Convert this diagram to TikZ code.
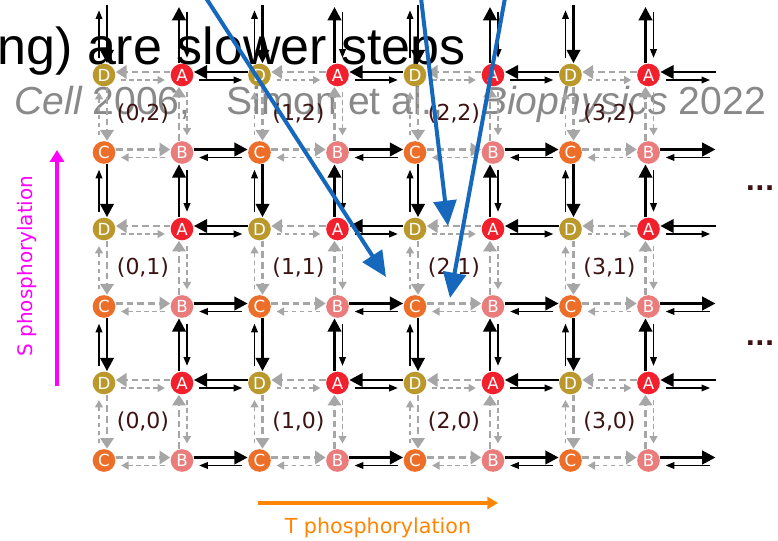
\documentclass[tikz,border=0pt]{standalone}
\usepackage{fontspec}
\newfontfamily\verdfont{DejaVu Sans}
\newfontfamily\arialfont{Liberation Sans}
\usetikzlibrary{arrows.meta,calc}

\definecolor{stateA}{RGB}{242,32,44}
\definecolor{stateB}{RGB}{234,124,124}
\definecolor{stateC}{RGB}{236,110,40}
\definecolor{stateD}{RGB}{186,152,44}
\definecolor{fluxgray}{RGB}{166,166,166}
\definecolor{cellname}{RGB}{60,18,18}
\definecolor{noteblue}{RGB}{22,104,188}
\definecolor{citegray}{RGB}{137,137,137}
\definecolor{tphos}{RGB}{255,133,0}
\definecolor{sphos}{RGB}{255,0,255}

\tikzset{every picture/.style={line width=0.75pt}}
\tikzset{
  state/.style={circle,inner sep=0pt,minimum size=17pt,text=white,font=\verdfont\fontsize{12.5}{12.5}\selectfont},
  cell/.style={inner sep=0pt,text=cellname,font=\verdfont\fontsize{16.5}{16.5}\selectfont},
  graybig/.style={draw=fluxgray,line width=1.8pt,dash pattern=on 5pt off 3pt,-{Triangle[length=8pt,width=10pt]}},
  graysmall/.style={draw=fluxgray,line width=1.1pt,dash pattern=on 3.5pt off 2.5pt,-{Triangle[length=5.5pt,width=6pt]},shorten <=4pt,shorten >=4pt},
  blackbig/.style={draw=black,line width=2.2pt,-{Triangle[length=10pt,width=10pt]}},
  blacksmall/.style={draw=black,line width=1.1pt,-{Triangle[length=6.5pt,width=5pt]},shorten <=4pt,shorten >=4pt},
  hint/.style={draw=noteblue,line width=3pt,-{Triangle[length=19pt,width=17pt]}},
}

\begin{document}
\begin{tikzpicture}[x=0.75pt,y=0.75pt,yscale=-1,xscale=1]
\useasboundingbox (0,0) rectangle (778,541);

% Text Node
\node [anchor=base west,inner sep=0pt,text=citegray,font=\arialfont\fontsize{29.3}{29.3}\selectfont] (cite) at (14,115) {{\itshape Cell} 2006,\hspace{19pt} Simon et al.,\hspace{20pt} {\itshape Biophysics} 2022};
% Text Node
\node [anchor=base west,inner sep=0pt,font=\arialfont\fontsize{39}{39}\selectfont] (slow) at (-3,65) {ng) are slower steps};

% states of every cell (i,j)
\foreach \i in {0,...,3}{
  \foreach \j in {0,...,2}{
    \pgfmathsetmacro{\xd}{104+155.5*\i}
    \pgfmathsetmacro{\xa}{182+155.5*\i}
    \pgfmathsetmacro{\yt}{383-154*\j}
    \pgfmathsetmacro{\yb}{460.5-154*\j}
    \node [state,fill=stateD] (d\i\j) at (\xd,\yt) {D};
    \node [state,fill=stateA] (a\i\j) at (\xa,\yt) {A};
    \node [state,fill=stateC] (c\i\j) at (\xd,\yb) {C};
    \node [state,fill=stateB] (b\i\j) at (\xa,\yb) {B};
    \node [cell] (n\i\j) at ($(d\i\j)!0.5!(b\i\j)$) {(\i,\j)};
    %Straight Lines A -> D -> C -> B -> A and back
    \draw [graybig] ($(a\i\j.west)+(0,-3)$) -- ($(d\i\j.east)+(0,-3)$);
    \draw [graysmall] ($(d\i\j.east)+(0,5)$) -- ($(a\i\j.west)+(0,5)$);
    \draw [graybig] ($(d\i\j.south)+(3,0)$) -- ($(c\i\j.north)+(3,0)$);
    \draw [graysmall] ($(c\i\j.north)+(-5,0)$) -- ($(d\i\j.south)+(-5,0)$);
    \draw [graybig] ($(c\i\j.east)+(0,-3)$) -- ($(b\i\j.west)+(0,-3)$);
    \draw [graysmall] ($(b\i\j.west)+(0,5)$) -- ($(c\i\j.east)+(0,5)$);
    \draw [graybig] ($(b\i\j.north)+(-3,0)$) -- ($(a\i\j.south)+(-3,0)$);
    \draw [graysmall] ($(a\i\j.south)+(5,0)$) -- ($(b\i\j.north)+(5,0)$);
  }
}

%Straight Lines between neighbouring cells, T direction
\foreach \i [count=\k from 1] in {0,1,2}{
  \foreach \j in {0,1,2}{
    \draw [blackbig] ($(d\k\j.west)+(0,-3)$) -- ($(a\i\j.east)+(0,-3)$);
    \draw [blacksmall] ($(a\i\j.east)+(0,5)$) -- ($(d\k\j.west)+(0,5)$);
    \draw [blackbig] ($(b\i\j.east)+(0,-3)$) -- ($(c\k\j.west)+(0,-3)$);
    \draw [blacksmall] ($(c\k\j.west)+(0,5)$) -- ($(b\i\j.east)+(0,5)$);
  }
}

%Straight Lines between neighbouring cells, S direction
\foreach \j [count=\m from 1] in {0,1}{
  \foreach \i in {0,...,3}{
    \draw [blackbig] ($(c\i\m.south)+(3,0)$) -- ($(d\i\j.north)+(3,0)$);
    \draw [blacksmall] ($(d\i\j.north)+(-5,0)$) -- ($(c\i\m.south)+(-5,0)$);
    \draw [blackbig] ($(a\i\j.north)+(-3,0)$) -- ($(b\i\m.south)+(-3,0)$);
    \draw [blacksmall] ($(b\i\m.south)+(5,0)$) -- ($(a\i\j.north)+(5,0)$);
  }
}

% open ends at the top
\foreach \i in {0,...,3}{
  \coordinate (td\i) at ($(d\i2)+(0,-70)$);
  \coordinate (ta\i) at ($(a\i2)+(0,-68)$);
  \draw [blackbig] ($(td\i)+(3,0)$) -- ($(d\i2.north)+(3,0)$);
  \draw [blacksmall] ($(d\i2.north)+(-5,0)$) -- ($(td\i)+(-5,0)$);
  \draw [blackbig] ($(a\i2.north)+(-3,0)$) -- ($(ta\i)+(-3,0)$);
  \draw [blacksmall] ($(ta\i)+(5,0)$) -- ($(a\i2.north)+(5,0)$);
}

% open ends on the right
\foreach \j in {0,1,2}{
  \coordinate (ea\j) at ($(a3\j)+(67,0)$);
  \coordinate (eb\j) at ($(b3\j)+(67,0)$);
  \draw [blackbig] ($(ea\j)+(0,-3)$) -- ($(a3\j.east)+(0,-3)$);
  \draw [blacksmall] ($(a3\j.east)+(0,5)$) -- ($(ea\j)+(0,5)$);
  \draw [blackbig] ($(b3\j.east)+(0,-3)$) -- ($(eb\j)+(0,-3)$);
  \draw [blacksmall] ($(eb\j)+(0,5)$) -- ($(b3\j.east)+(0,5)$);
}

% Text Node
\node [anchor=base,inner sep=0pt,text=cellname,font=\verdfont\bfseries\fontsize{19}{19}\selectfont] (more1) at (760,191) {...};
% Text Node
\node [anchor=base,inner sep=0pt,text=cellname,font=\verdfont\bfseries\fontsize{19}{19}\selectfont] (more2) at (760,346) {...};

% axes
\coordinate (s0) at (57,386);
\coordinate (s1) at (57,150);
\draw [draw=sphos,line width=2.4pt,-{Triangle[length=9pt,width=10.5pt]}] (s0) -- (s1);
\node [rotate=90,inner sep=0pt,text=sphos,font=\verdfont\fontsize{15}{15}\selectfont] (sname) at (27,266) {S phosphorylation};
\coordinate (t0) at (258,503);
\coordinate (t1) at (498,503);
\draw [draw=tphos,line width=2.4pt,-{Triangle[length=8pt,width=9pt]}] (t0) -- (t1);
\node [inner sep=0pt,text=tphos,font=\verdfont\fontsize{15.5}{15.5}\selectfont] (tname) at (378,528) {T phosphorylation};

% blue pointers
\coordinate (tail1) at (206,-2);
\coordinate (tip1) at (386,277);
\coordinate (tail2) at (421,-2);
\coordinate (tip2) at (448,226);
\coordinate (tail3) at (505,-2);
\coordinate (tip3) at (450,298);
\draw [hint] (tail1) -- (tip1);
\draw [hint] (tail2) -- (tip2);
\draw [hint] (tail3) -- (tip3);

\end{tikzpicture}
\end{document}
